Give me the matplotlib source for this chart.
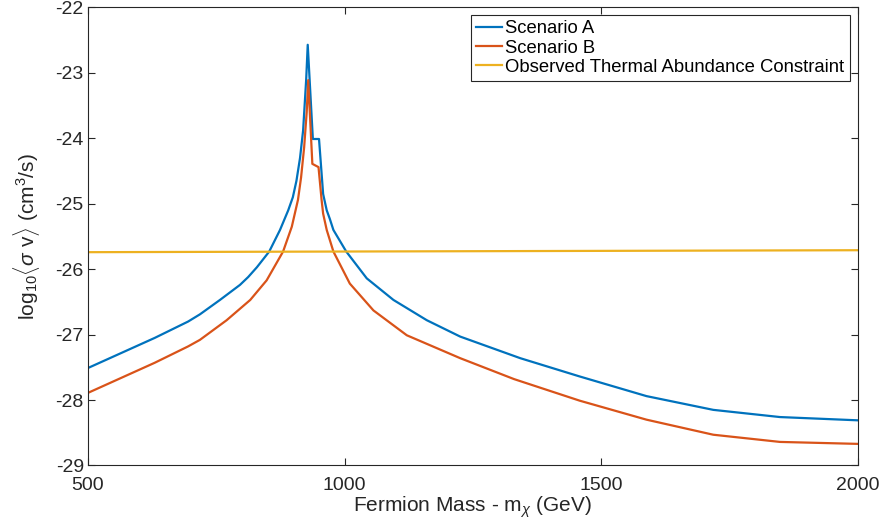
import matplotlib
matplotlib.use('Agg')
import matplotlib.pyplot as plt

# Values
mass_a = [500, 565, 630, 695, 718, 757, 796, 812, 829, 853, 874, 890, 899, 906, 913,
          919, 925, 928, 938, 950, 958, 965, 971, 978, 1003, 1043, 1095, 1160, 1225,
          1342, 1458, 1588, 1718, 1848, 2000]
sigv_a = [-27.51, -27.28, -27.05, -26.80, -26.69, -26.47, -26.24, -26.12, -25.97, -25.73,
          -25.40, -25.10, -24.90, -24.65, -24.30, -23.88, -23.10, -22.57, -24.01, -24.01,
          -24.85, -25.10, -25.23, -25.40, -25.73, -26.14, -26.47, -26.78, -27.03,
          -27.36, -27.64, -27.94, -28.15, -28.26, -28.31]

mass_b = [500, 565, 630, 695, 718, 770, 816, 848, 880, 897, 909, 915, 921, 926, 929,
          937, 949, 955, 958, 965, 978, 1010, 1056, 1121, 1225, 1330, 1458, 1588, 1718,
          1848, 2000]
sigv_b = [-27.89, -27.66, -27.43, -27.18, -27.08, -26.78, -26.47, -26.17, -25.73, -25.35,
          -24.94, -24.60, -24.14, -23.60, -23.11, -24.39, -24.44, -24.94, -25.15, -25.40,
          -25.73, -26.22, -26.63, -27.01, -27.36, -27.68, -28.01, -28.30, -28.53,
          -28.64, -28.67]

mass_obs = [500, 2000]
sigv_obs = [-25.74, -25.71]

labels = ['Scenario A', 'Scenario B', 'Observed Thermal Abundance Constraint']
colors = ['#0072BD', '#D95319', '#EDB120']

plt.rcParams['font.family'] = ['Liberation Sans', 'DejaVu Sans']
plt.rcParams['mathtext.fontset'] = 'custom'
plt.rcParams['mathtext.rm'] = 'Liberation Sans'
plt.rcParams['mathtext.it'] = 'Liberation Sans:italic'
plt.rcParams['axes.unicode_minus'] = False

fig = plt.figure(figsize=(8.82, 5.31), dpi=100)
ax = fig.add_axes([0.0998, 0.1234, 0.873, 0.8625])

ax.plot(mass_a, sigv_a, color=colors[0], lw=1.6, label=labels[0])
ax.plot(mass_b, sigv_b, color=colors[1], lw=1.6, label=labels[1])
ax.plot(mass_obs, sigv_obs, color=colors[2], lw=1.6, label=labels[2])

ax.set_xlim(500, 2000)
ax.set_ylim(-29, -22)
ax.set_xticks([500, 1000, 1500, 2000])
ax.set_yticks(range(-29, -21))

dark = '#262626'
for s in ax.spines.values():
    s.set_color(dark)
    s.set_linewidth(0.8)
ax.tick_params(direction='in', top=True, right=True, length=5, width=0.8,
               colors=dark, labelsize=14, labelcolor=dark)
ax.tick_params(axis='x', pad=8)
ax.tick_params(axis='y', pad=3)

ax.set_xlabel(r'Fermion Mass - m$_{\chi}$ (GeV)', fontsize=15, color=dark, labelpad=1)
ax.set_ylabel(r'log$_{10}\langle\sigma$ v$\rangle$ (cm$^3$/s)', fontsize=15, color=dark, labelpad=10)

leg = ax.legend(loc='upper right', bbox_to_anchor=(0.989, 0.984), fontsize=13.3,
                frameon=True, fancybox=False, framealpha=1, edgecolor=dark,
                handlelength=1.4, handletextpad=0.15, labelspacing=0.12,
                borderpad=0.3, borderaxespad=0)
leg.get_frame().set_linewidth(0.8)

fig.savefig('out.png', dpi=100)
